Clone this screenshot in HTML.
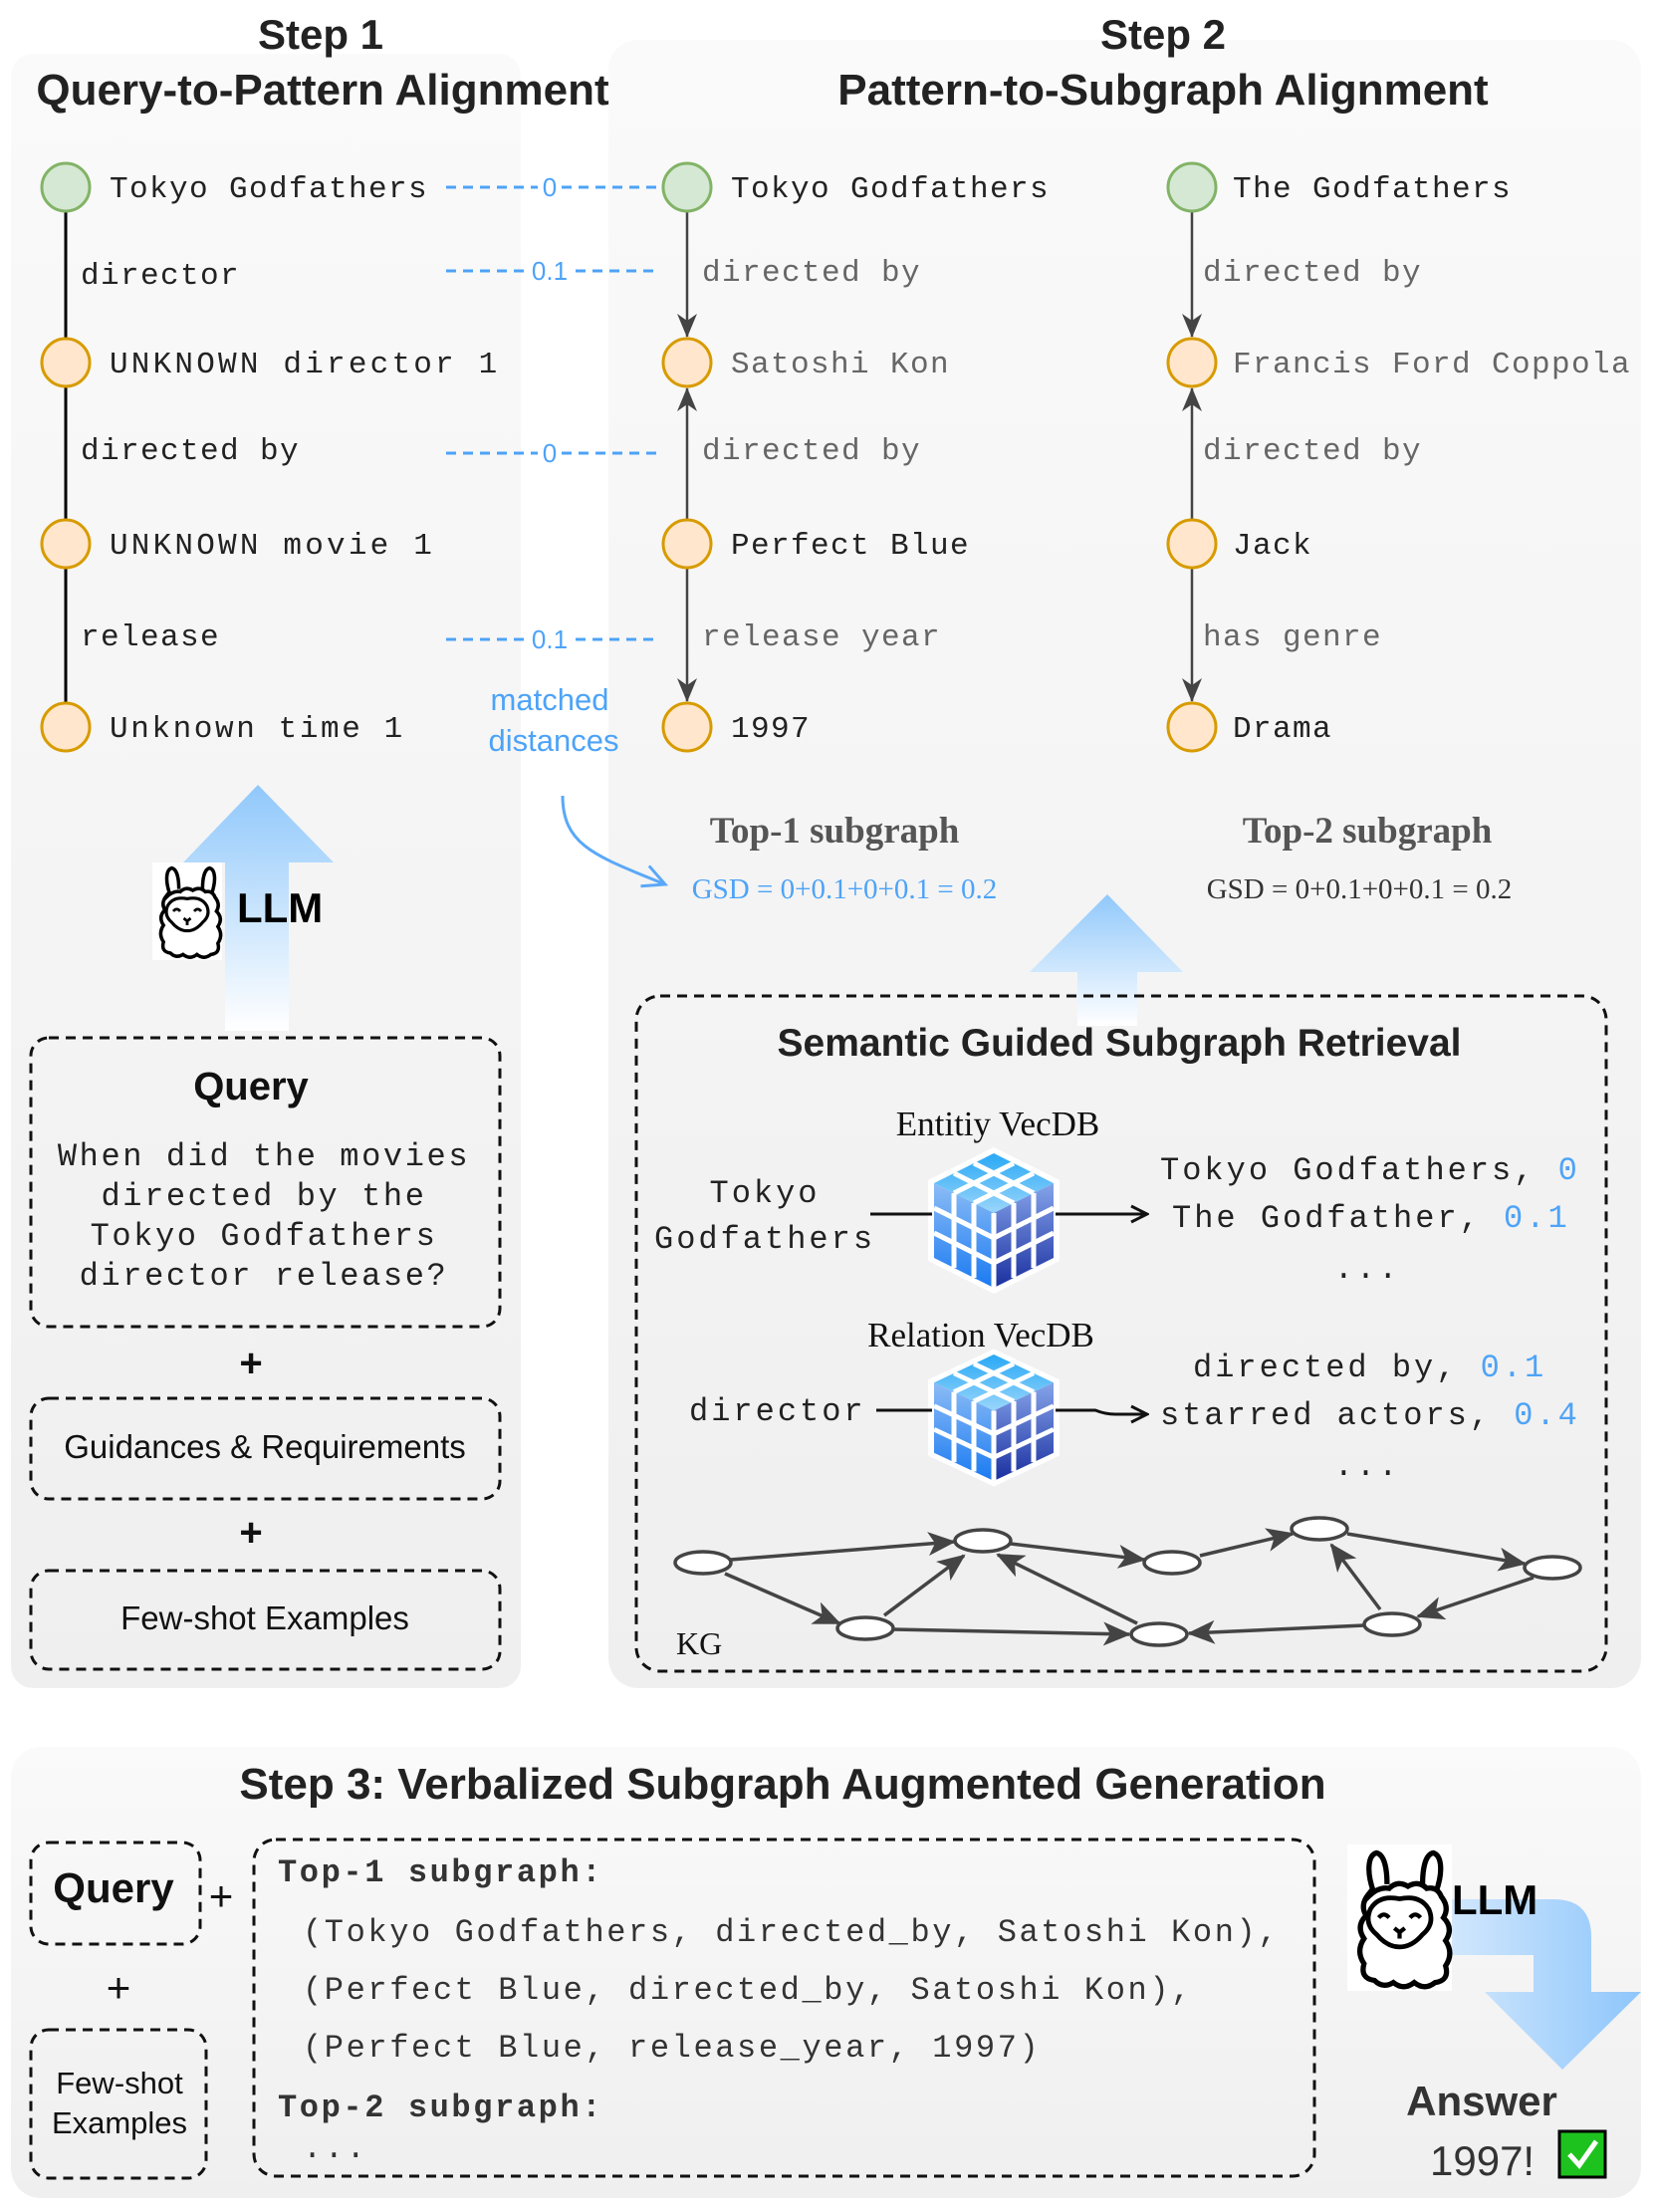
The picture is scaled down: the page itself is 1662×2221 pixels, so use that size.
<!DOCTYPE html>
<html><head><meta charset="utf-8"><style>
html,body{margin:0;padding:0;background:#fff}
svg{display:block}
.sans{font-family:"Liberation Sans",sans-serif}
.mono{font-family:"Liberation Mono",monospace}
.serif{font-family:"Liberation Serif",serif}
</style></head><body>
<svg width="1662" height="2221" viewBox="0 0 1662 2221" xmlns="http://www.w3.org/2000/svg">
<defs>
<linearGradient id="pan" x1="0" y1="0" x2="0" y2="1"><stop offset="0" stop-color="#fafafa"/><stop offset="1" stop-color="#efefef"/></linearGradient>
<linearGradient id="upA" x1="0" y1="0" x2="0" y2="1"><stop offset="0" stop-color="#90c8fb"/><stop offset="1" stop-color="#ffffff"/></linearGradient>
<linearGradient id="rA" x1="0" y1="0" x2="1" y2="0"><stop offset="0" stop-color="#ffffff" stop-opacity="0"/><stop offset="0.4" stop-color="#cfe6fd"/><stop offset="1" stop-color="#8ec6fb"/></linearGradient>
<linearGradient id="ct" x1="0" y1="0" x2="0" y2="1"><stop offset="0" stop-color="#29a8f5"/><stop offset="1" stop-color="#9ad6fb"/></linearGradient>
<linearGradient id="cl" x1="0" y1="0" x2="0" y2="1"><stop offset="0" stop-color="#8cbcf5"/><stop offset="1" stop-color="#1a7af2"/></linearGradient>
<linearGradient id="cr" x1="0" y1="0" x2="0" y2="1"><stop offset="0" stop-color="#86a4ea"/><stop offset="1" stop-color="#1a30a0"/></linearGradient>
<marker id="ah" markerWidth="26" markerHeight="20" refX="23" refY="10" orient="auto" markerUnits="userSpaceOnUse"><path d="M0,0 L24,10 L0,20 L7,10 Z" fill="#444"/></marker>
<marker id="akg" markerWidth="30" markerHeight="24" refX="26" refY="12" orient="auto" markerUnits="userSpaceOnUse"><path d="M0,0 L28,12 L0,24 L7,12 Z" fill="#444"/></marker>
<marker id="ab" markerWidth="20" markerHeight="20" refX="18" refY="10" orient="auto" markerUnits="userSpaceOnUse"><path d="M2,2 L18,10 L2,18" fill="none" stroke="#111" stroke-width="3"/></marker>
<marker id="abl" markerWidth="30" markerHeight="30" refX="26" refY="15" orient="auto" markerUnits="userSpaceOnUse"><path d="M4,4 L26,15 L4,26" fill="none" stroke="#5aa8f8" stroke-width="3"/></marker>
<g id="cube">
<polygon points="0,-6 66,27 66,108 0,141 -66,108 -66,27" fill="#fff"/>
<polygon points="0,0 60,30 0,60 -60,30" fill="url(#ct)"/>
<polygon points="-60,30 0,60 0,135 -60,105" fill="url(#cl)"/>
<polygon points="0,60 60,30 60,105 0,135" fill="url(#cr)"/>
<g stroke="#fff" stroke-width="5">
<line x1="-20" y1="10" x2="40" y2="40"/><line x1="-40" y1="20" x2="20" y2="50"/>
<line x1="20" y1="10" x2="-40" y2="40"/><line x1="40" y1="20" x2="-20" y2="50"/>
<line x1="-40" y1="40" x2="-40" y2="115"/><line x1="-20" y1="50" x2="-20" y2="125"/>
<line x1="-60" y1="55" x2="0" y2="85"/><line x1="-60" y1="80" x2="0" y2="110"/>
<line x1="20" y1="50" x2="20" y2="125"/><line x1="40" y1="40" x2="40" y2="115"/>
<line x1="0" y1="85" x2="60" y2="55"/><line x1="0" y1="110" x2="60" y2="80"/>
<line x1="0" y1="60" x2="0" y2="135"/>
</g>
</g>
<g id="llama">
<rect x="0" y="0" width="100" height="140" fill="#fff"/>
<path d="M25,45 C18,25 20,10 28,8 C36,10 38,25 38,38 M72,38 C72,25 74,10 82,8 C90,10 92,25 85,45" fill="none" stroke="#000" stroke-width="5"/>
<path d="M20,48 q-8,10 -2,20 q-10,10 -2,22 q-8,12 0,24 q-4,14 10,16 q8,8 18,2 q10,8 20,0 q10,8 20,0 q14,-2 10,-16 q8,-12 0,-24 q8,-12 -2,-22 q6,-10 -2,-20 q-4,-10 -14,-8 q-8,-8 -18,-2 q-10,-6 -18,2 q-10,-2 -20,8z" fill="#fff" stroke="#000" stroke-width="5"/>
<path d="M22,62 q8,-14 28,-10 q20,-4 28,10 q6,14 -6,24 q-10,12 -22,12 q-12,0 -22,-12 q-12,-10 -6,-24z" fill="#fff" stroke="#000" stroke-width="4.5"/>
<path d="M30,70 q5,-6 10,0 M60,70 q5,-6 10,0 M45,80 l5,4 l5,-4 M50,84 v6" fill="none" stroke="#000" stroke-width="4"/>
</g>
</defs>

<rect x="11" y="54" width="512" height="1641" rx="22" fill="url(#pan)"/>
<rect x="611" y="40" width="1037" height="1655" rx="30" fill="url(#pan)"/>
<rect x="11" y="1754" width="1637" height="453" rx="30" fill="url(#pan)"/>

<g class="sans" font-weight="bold" font-size="44" fill="#222" text-anchor="middle">
<text x="322" y="49" font-size="42">Step 1</text>
<text x="324" y="105">Query-to-Pattern Alignment</text>
<text x="1168" y="49" font-size="42">Step 2</text>
<text x="1168" y="105">Pattern-to-Subgraph Alignment</text>
<text x="786" y="1806">Step 3: Verbalized Subgraph Augmented Generation</text>
</g>

<line x1="66" y1="188" x2="66" y2="730" stroke="#000" stroke-width="3"/>
<g stroke="#444" stroke-width="2.5">
<line x1="690" y1="212" x2="690" y2="338" marker-end="url(#ah)"/>
<line x1="690" y1="522" x2="690" y2="390" marker-end="url(#ah)"/>
<line x1="690" y1="570" x2="690" y2="704" marker-end="url(#ah)"/>
<line x1="1197" y1="212" x2="1197" y2="338" marker-end="url(#ah)"/>
<line x1="1197" y1="522" x2="1197" y2="390" marker-end="url(#ah)"/>
<line x1="1197" y1="570" x2="1197" y2="704" marker-end="url(#ah)"/>
</g>
<g stroke-width="3">
<circle cx="66" cy="188" r="24" fill="#d5e8d4" stroke="#82b366"/>
<circle cx="66" cy="364" r="24" fill="#ffe6cc" stroke="#d79b00"/>
<circle cx="66" cy="546" r="24" fill="#ffe6cc" stroke="#d79b00"/>
<circle cx="66" cy="730" r="24" fill="#ffe6cc" stroke="#d79b00"/>
<circle cx="690" cy="188" r="24" fill="#d5e8d4" stroke="#82b366"/>
<circle cx="690" cy="364" r="24" fill="#ffe6cc" stroke="#d79b00"/>
<circle cx="690" cy="546" r="24" fill="#ffe6cc" stroke="#d79b00"/>
<circle cx="690" cy="730" r="24" fill="#ffe6cc" stroke="#d79b00"/>
<circle cx="1197" cy="188" r="24" fill="#d5e8d4" stroke="#82b366"/>
<circle cx="1197" cy="364" r="24" fill="#ffe6cc" stroke="#d79b00"/>
<circle cx="1197" cy="546" r="24" fill="#ffe6cc" stroke="#d79b00"/>
<circle cx="1197" cy="730" r="24" fill="#ffe6cc" stroke="#d79b00"/>
</g>
<g class="mono" font-size="31" letter-spacing="1.4" fill="#222">
<text x="110" y="198">Tokyo Godfathers</text>
<text x="81" y="285">director</text>
<text x="110" y="374" letter-spacing="3.2">UNKNOWN director 1</text>
<text x="81" y="461">directed by</text>
<text x="110" y="556" letter-spacing="3.2">UNKNOWN movie 1</text>
<text x="81" y="648">release</text>
<text x="110" y="740" letter-spacing="2.6">Unknown time 1</text>
<text x="734" y="198">Tokyo Godfathers</text>
<text x="734" y="740">1997</text>
<text x="734" y="556">Perfect Blue</text>
<text x="1238" y="198">The Godfathers</text>
<text x="1238" y="556">Jack</text>
<text x="1238" y="740">Drama</text>
</g>
<g class="mono" font-size="31" letter-spacing="1.4" fill="#666">
<text x="705" y="282">directed by</text>
<text x="734" y="374">Satoshi Kon</text>
<text x="705" y="461">directed by</text>
<text x="705" y="648">release year</text>
<text x="1208" y="282">directed by</text>
<text x="1238" y="374">Francis Ford Coppola</text>
<text x="1208" y="461">directed by</text>
<text x="1208" y="648">has genre</text>
</g>

<g stroke="#4da3f7" stroke-width="3" stroke-dasharray="10,7">
<line x1="448" y1="188" x2="540" y2="188"/><line x1="564" y1="188" x2="660" y2="188"/>
<line x1="448" y1="272" x2="528" y2="272"/><line x1="578" y1="272" x2="660" y2="272"/>
<line x1="448" y1="455" x2="540" y2="455"/><line x1="564" y1="455" x2="660" y2="455"/>
<line x1="448" y1="642" x2="528" y2="642"/><line x1="578" y1="642" x2="660" y2="642"/>
</g>
<g class="sans" font-size="26" fill="#4da3f7" text-anchor="middle">
<text x="552" y="197">0</text><text x="552" y="281">0.1</text>
<text x="552" y="464">0</text><text x="552" y="651">0.1</text>
<text x="552" y="713" font-size="31">matched</text>
<text x="556" y="754" font-size="31">distances</text>
</g>
<path d="M565,799 C565,850 600,860 668,888" fill="none" stroke="#5aa8f8" stroke-width="3" marker-end="url(#abl)"/>

<g class="serif" font-weight="bold" font-size="37" fill="#555" text-anchor="middle">
<text x="838" y="846">Top-1 subgraph</text>
<text x="1373" y="846">Top-2 subgraph</text>
</g>
<g class="serif" font-size="29" text-anchor="middle">
<text x="848" y="902" fill="#4da3f7">GSD = 0+0.1+0+0.1 = 0.2</text>
<text x="1365" y="902" fill="#333">GSD = 0+0.1+0+0.1 = 0.2</text>
</g>

<polygon points="259,788 335,866 290,866 290,1035 226,1035 226,866 184,866" fill="url(#upA)"/>
<polygon points="1112,898 1188,976 1142,976 1142,1030 1082,1030 1082,976 1034,976" fill="url(#upA)"/>
<use href="#llama" transform="translate(153,866) scale(0.7)"/>
<text x="238" y="926" class="sans" font-weight="bold" font-size="42" fill="#000">LLM</text>

<g fill="none" stroke="#111" stroke-width="3" stroke-dasharray="10,7">
<rect x="31" y="1042" width="471" height="290" rx="18"/>
<rect x="31" y="1404" width="471" height="101" rx="18"/>
<rect x="31" y="1577" width="471" height="99" rx="18"/>
<rect x="639" y="1000" width="974" height="678" rx="24"/>
<rect x="31" y="1850" width="170" height="102" rx="18"/>
<rect x="31" y="2038" width="176" height="149" rx="18"/>
<rect x="255" y="1847" width="1065" height="338" rx="22"/>
</g>
<text x="252" y="1104" class="sans" font-weight="bold" font-size="40" text-anchor="middle" fill="#111">Query</text>
<g class="mono" font-size="32" letter-spacing="2.6" fill="#222" text-anchor="middle">
<text x="265" y="1170">When did the movies</text>
<text x="265" y="1210">directed by the</text>
<text x="265" y="1250">Tokyo Godfathers</text>
<text x="265" y="1290">director release?</text>
</g>
<g class="sans" fill="#111" text-anchor="middle">
<text x="252" y="1382" font-size="40" font-weight="bold">+</text>
<text x="266" y="1464" font-size="33">Guidances &amp; Requirements</text>
<text x="252" y="1552" font-size="40" font-weight="bold">+</text>
<text x="266" y="1636" font-size="33">Few-shot Examples</text>
</g>

<text x="1124" y="1060" class="sans" font-weight="bold" font-size="39" text-anchor="middle" fill="#222">Semantic Guided Subgraph Retrieval</text>
<g class="serif" font-size="35" fill="#111" text-anchor="middle">
<text x="1002" y="1140">Entitiy VecDB</text>
<text x="985" y="1352">Relation VecDB</text>
</g>
<use href="#cube" transform="translate(998,1158)"/>
<use href="#cube" transform="translate(998,1360) scale(1,0.94)"/>
<g class="mono" font-size="32" letter-spacing="3" fill="#222">
<text x="768" y="1207" text-anchor="middle">Tokyo</text>
<text x="768" y="1253" text-anchor="middle">Godfathers</text>
<text x="692" y="1426">director</text>
<text x="1165" y="1184">Tokyo Godfathers, <tspan fill="#4da3f7">0</tspan></text>
<text x="1177" y="1232">The Godfather, <tspan fill="#4da3f7">0.1</tspan></text>
<text x="1373" y="1283" text-anchor="middle">...</text>
<text x="1198" y="1382">directed by, <tspan fill="#4da3f7">0.1</tspan></text>
<text x="1165" y="1430">starred actors, <tspan fill="#4da3f7">0.4</tspan></text>
<text x="1373" y="1481" text-anchor="middle">...</text>
</g>
<g stroke="#111" stroke-width="3">
<line x1="874" y1="1219" x2="936" y2="1219"/>
<line x1="1060" y1="1219" x2="1152" y2="1219" marker-end="url(#ab)"/>
<line x1="880" y1="1416" x2="936" y2="1416"/>
<path d="M1060,1416 L1100,1416 Q1110,1420 1120,1420 L1152,1420" fill="none" marker-end="url(#ab)"/>
</g>

<g stroke="#444" stroke-width="3.5" fill="none">
<line x1="734" y1="1566" x2="958" y2="1548" marker-end="url(#akg)"/>
<line x1="728" y1="1580" x2="843" y2="1630" marker-end="url(#akg)"/>
<line x1="888" y1="1622" x2="968" y2="1562" marker-end="url(#akg)"/>
<line x1="897" y1="1636" x2="1134" y2="1641" marker-end="url(#akg)"/>
<line x1="1015" y1="1550" x2="1149" y2="1566" marker-end="url(#akg)"/>
<line x1="1142" y1="1630" x2="1002" y2="1561" marker-end="url(#akg)"/>
<line x1="1205" y1="1562" x2="1298" y2="1540" marker-end="url(#akg)"/>
<line x1="1353" y1="1540" x2="1531" y2="1570" marker-end="url(#akg)"/>
<line x1="1386" y1="1616" x2="1337" y2="1551" marker-end="url(#akg)"/>
<line x1="1540" y1="1584" x2="1424" y2="1623" marker-end="url(#akg)"/>
<line x1="1370" y1="1632" x2="1194" y2="1640" marker-end="url(#akg)"/>
</g>
<g fill="#fff" stroke="#444" stroke-width="3.5">
<ellipse cx="706" cy="1569" rx="28" ry="11"/>
<ellipse cx="987" cy="1547" rx="28" ry="11"/>
<ellipse cx="1177" cy="1569" rx="28" ry="11"/>
<ellipse cx="1325" cy="1535" rx="28" ry="11"/>
<ellipse cx="1559" cy="1574" rx="28" ry="11"/>
<ellipse cx="869" cy="1635" rx="28" ry="11"/>
<ellipse cx="1164" cy="1641" rx="28" ry="11"/>
<ellipse cx="1398" cy="1631" rx="28" ry="11"/>
</g>
<text x="679" y="1661" class="serif" font-size="32" fill="#111">KG</text>

<g class="sans" fill="#111" text-anchor="middle">
<text x="114" y="1910" font-size="42" font-weight="bold">Query</text>
<text x="222" y="1918" font-size="42">+</text>
<text x="119" y="2010" font-size="42">+</text>
<text x="120" y="2102" font-size="31">Few-shot</text>
<text x="120" y="2142" font-size="31">Examples</text>
</g>
<g class="mono" font-size="32" letter-spacing="2.6" fill="#333">
<text x="279" y="1889" font-weight="bold">Top-1 subgraph:</text>
<text x="304" y="1949">(Tokyo Godfathers, directed_by, Satoshi Kon),</text>
<text x="304" y="2007">(Perfect Blue, directed_by, Satoshi Kon),</text>
<text x="304" y="2065">(Perfect Blue, release_year, 1997)</text>
<text x="279" y="2125" font-weight="bold">Top-2 subgraph:</text>
<text x="304" y="2166">...</text>
</g>
<path d="M1340,1907 L1560,1907 Q1598,1907 1598,1945 L1598,2000 L1648,2000 L1569,2078 L1491,2000 L1540,2000 L1540,1963 L1340,1963 Z" fill="url(#rA)"/>
<use href="#llama" transform="translate(1353,1852) scale(1.05)"/>
<text x="1458" y="1922" class="sans" font-weight="bold" font-size="42" fill="#000">LLM</text>
<text x="1488" y="2124" class="sans" font-weight="bold" font-size="42" text-anchor="middle" fill="#333">Answer</text>
<text x="1436" y="2184" class="sans" font-size="42" fill="#333">1997!</text>
<rect x="1566" y="2140" width="46" height="46" fill="#1ec21e" stroke="#000" stroke-width="3"/>
<path d="M1576,2163 L1586,2174 L1603,2150" fill="none" stroke="#fff" stroke-width="5"/>
</svg>
</body></html>
